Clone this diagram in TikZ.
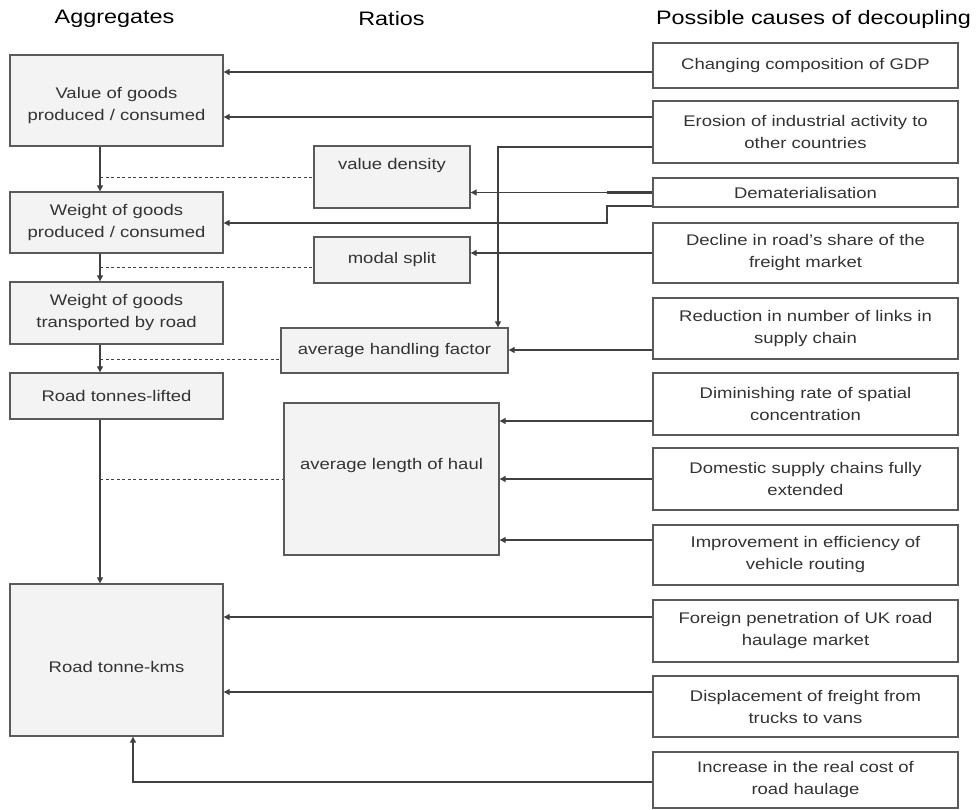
\documentclass[tikz,border=0pt]{standalone}
\usepackage{fontspec}
\setmainfont{Liberation Sans}[FakeStretch=1.2]
\usetikzlibrary{arrows.meta}
\definecolor{boxfill}{HTML}{F3F3F3}
\definecolor{edge}{HTML}{5A5A5A}
\definecolor{wire}{HTML}{404040}
\definecolor{ink}{HTML}{333333}
\begin{document}
\begin{tikzpicture}[x=1pt,y=-1pt,
  base/.style={draw=edge, line width=1.3pt, rectangle, inner sep=0pt, align=center, text=ink, font=\fontsize{15.4}{22}\selectfont},
  aggbox/.style={base, fill=boxfill, minimum width=213pt},
  ratiobox/.style={base, fill=boxfill},
  causebox/.style={base, fill=white, minimum width=305pt},
  boxtext/.style={inner sep=0pt, align=center, text=ink, font=\fontsize{15.4}{22}\selectfont},
  head/.style={font=\fontsize{19.5}{24}\selectfont, text=black, inner sep=0pt},
  wireline/.style={draw=wire, line width=1.1pt},
  arr/.style={wireline, -{Triangle[length=6pt,width=6pt]}},
  dashline/.style={draw=wire, line width=1pt, dash pattern=on 3pt off 2.5pt}
]
\useasboundingbox (0,0) rectangle (978,810);

% headers
\node[head] (hagg) at (114.5,19) {Aggregates};
\node[head] (hrat) at (391.5,19) {Ratios};
\node[head] (hcau) at (813.5,19) {Possible causes of decoupling};

% aggregates
\node[aggbox, minimum height=91pt] (valg) at (116.5,100.5) {};
\node[boxtext] (valgt) at (116.5,106) {Value of goods\\produced / consumed};
\node[aggbox, minimum height=61pt] (wpc) at (116.5,222.5) {Weight of goods\\produced / consumed};
\node[aggbox, minimum height=62pt] (wtr) at (116.5,313) {Weight of goods\\transported by road};
\node[aggbox, minimum height=46pt] (rtl) at (116.5,396) {Road tonnes-lifted};
\node[aggbox, minimum height=152pt] (rtk) at (116.5,660) {};
\node[boxtext] (rtkt) at (116.5,667) {Road tonne-kms};

% ratios
\node[ratiobox, minimum width=156pt, minimum height=62pt] (vd) at (392,177) {};
\node[boxtext] (vdt) at (392,166) {value density};
\node[ratiobox, minimum width=156pt, minimum height=46pt] (ms) at (392,260) {modal split};
\node[ratiobox, minimum width=227pt, minimum height=45pt] (hf) at (394.5,350.5) {average handling factor};
\node[ratiobox, minimum width=215pt, minimum height=152pt] (haul) at (391.5,479) {};
\node[boxtext] (hault) at (391.5,466) {average length of haul};

% causes
\node[causebox, minimum height=45pt] (chg) at (805.5,65.5) {Changing composition of GDP};
\node[causebox, minimum height=62pt] (ero) at (805.5,132) {Erosion of industrial activity to\\other countries};
\node[causebox, minimum height=29pt] (dem) at (805.5,192.5) {Dematerialisation};
\node[causebox, minimum height=60pt] (dec) at (805.5,253) {Decline in road's share of the\\freight market};
\node[causebox, minimum height=61pt] (red) at (805.5,328.5) {Reduction in number of links in\\supply chain};
\node[causebox, minimum height=62pt] (dim) at (805.5,404) {Diminishing rate of spatial\\concentration};
\node[causebox, minimum height=62pt] (dom) at (805.5,479) {Domestic supply chains fully\\extended};
\node[causebox, minimum height=60pt] (imp) at (805.5,555) {Improvement in efficiency of\\vehicle routing};
\node[causebox, minimum height=62pt] (for) at (805.5,631) {Foreign penetration of UK road\\haulage market};
\node[causebox, minimum height=61pt] (dis) at (805.5,706.5) {Displacement of freight from\\trucks to vans};
\node[causebox, minimum height=56pt] (inc) at (805.5,780) {Increase in the real cost of\\road haulage};

% helper coordinates
\coordinate (xa) at (100,0);
\coordinate (xb) at (498,0);
\coordinate (xc) at (607,0);
\coordinate (xd) at (133,0);
\coordinate (y223) at (0,223);

% aggregate chain
\draw[arr] (valg.south -| xa) -- (wpc.north -| xa);
\draw[arr] (wpc.south -| xa) -- (wtr.north -| xa);
\draw[arr] (wtr.south -| xa) -- (rtl.north -| xa);
\draw[arr] (rtl.south -| xa) -- (rtk.north -| xa);

% dashed ratio links
\coordinate (d1) at ([yshift=-1pt]vd.west);
\draw[dashline] (d1 -| xa) -- (d1);
\coordinate (d2) at ([yshift=-8pt]ms.west);
\draw[dashline] (d2 -| xa) -- (d2);
\coordinate (d3) at ([yshift=-9.5pt]hf.west);
\draw[dashline] (d3 -| xa) -- (d3);
\draw[dashline] (haul.west -| xa) -- (haul.west);

% cause connectors
\coordinate (a1) at ([yshift=-6.5pt]chg.west);
\draw[arr] (a1) -- (a1 -| valg.east);
\coordinate (a2) at ([yshift=15pt]ero.west);
\draw[arr] (a2) -- (a2 -| valg.east);
\coordinate (a3) at ([yshift=-15pt]ero.west);
\draw[arr] (a3) -- (a3 -| xb) -- (xb |- hf.north);
\draw[arr] (dem.west) -- (dem.west -| vd.east);
\draw[wireline, line width=2.4pt] (dem.west) -- (dem.west -| xc);
\coordinate (a5) at ([yshift=-13.5pt]dem.west);
\draw[arr] (a5) -- (a5 -| xc) -- (xc |- y223) -- (y223 -| wpc.east);
\draw[arr] (dec.west) -- (dec.west -| ms.east);
\coordinate (a7) at ([yshift=-21.5pt]red.west);
\draw[arr] (a7) -- (a7 -| hf.east);
\coordinate (a8) at ([yshift=-17pt]dim.west);
\draw[arr] (a8) -- (a8 -| haul.east);
\draw[arr] (dom.west) -- (dom.west -| haul.east);
\coordinate (a10) at ([yshift=15pt]imp.west);
\draw[arr] (a10) -- (a10 -| haul.east);
\coordinate (a11) at ([yshift=14pt]for.west);
\draw[arr] (a11) -- (a11 -| rtk.east);
\coordinate (a12) at ([yshift=14.5pt]dis.west);
\draw[arr] (a12) -- (a12 -| rtk.east);
\coordinate (a13) at ([yshift=-2pt]inc.west);
\draw[arr] (a13) -- (a13 -| xd) -- (xd |- rtk.south);
\end{tikzpicture}
\end{document}
